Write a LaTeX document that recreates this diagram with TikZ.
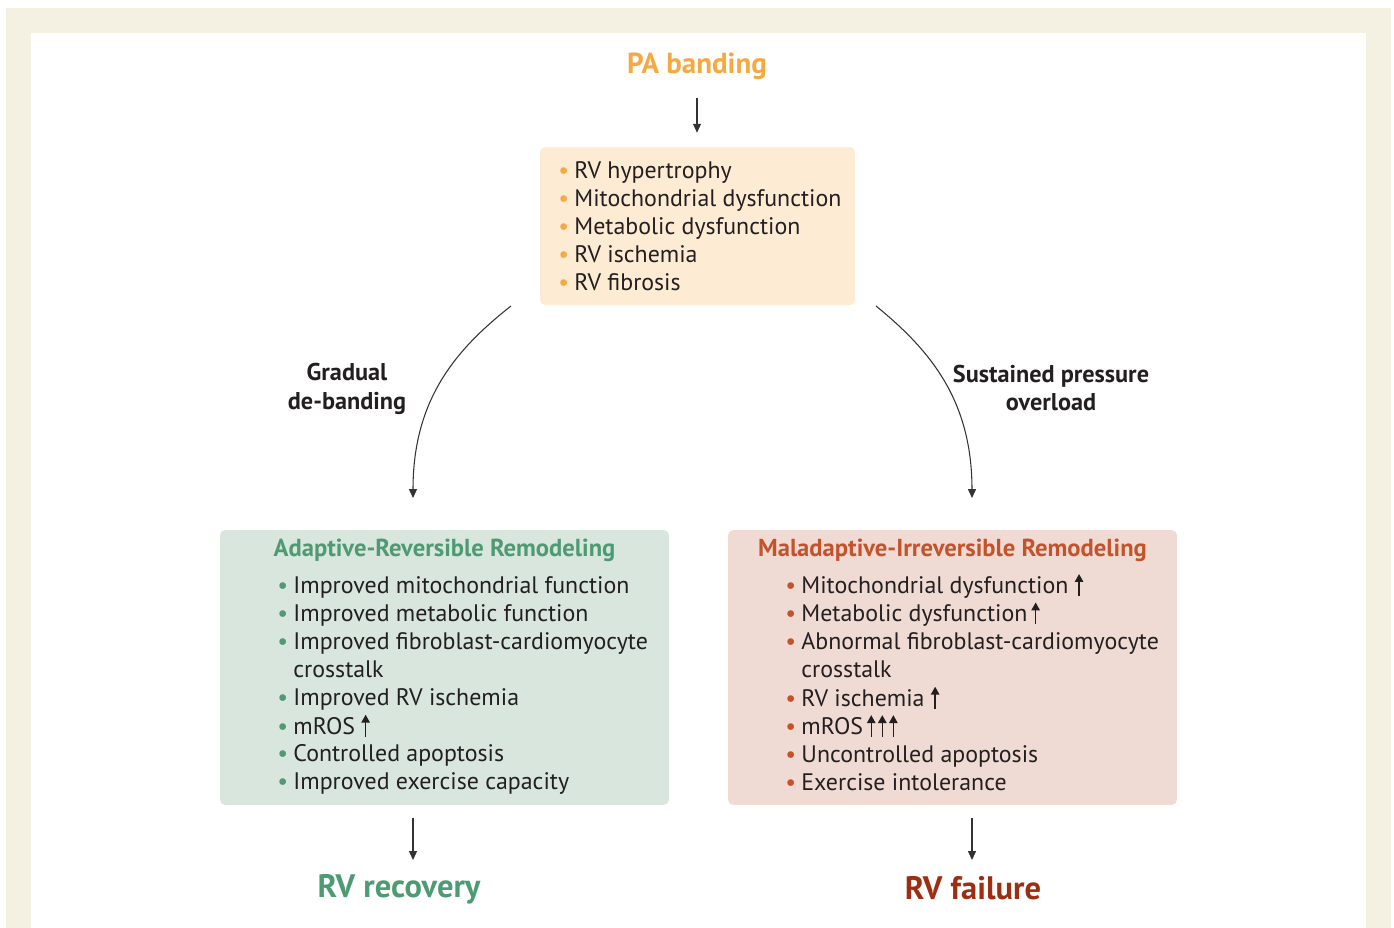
\documentclass[tikz,border=0pt]{standalone}
\usepackage{fontspec}
\setmainfont{PT Sans}
\usepackage{tikz}
\usetikzlibrary{positioning,calc,arrows.meta}

\definecolor{framebg}{HTML}{F4F0E2}
\definecolor{linegray}{HTML}{333333}
\definecolor{textdark}{HTML}{231F20}
\definecolor{pacolor}{HTML}{F7A941}
\definecolor{topfill}{HTML}{FDEBD4}
\definecolor{adgreen}{HTML}{4E9A72}
\definecolor{adfill}{HTML}{D8E6DE}
\definecolor{malred}{HTML}{C4532C}
\definecolor{malfill}{HTML}{F0DBD4}
\definecolor{failred}{HTML}{9E2E12}

\newcommand{\incr}{\tikz[baseline=0pt]\draw[line width=0.8pt,textdark,-{Triangle[length=4.5pt,width=4.8pt]}] (0pt,-1.5pt) -- (0pt,11pt);}
\newcommand{\itm}[2]{\textcolor{#1}{\textbullet} & #2\\}

\begin{document}
\begin{tikzpicture}[x=0.02cm, y=-0.02cm,
  flow/.style={draw=linegray, line width=0.6pt, -{Triangle[length=5pt,width=4.5pt]}},
  panel/.style={rounded corners=3pt, inner sep=0pt},
  listtext/.style={anchor=north west, inner sep=0pt, text=textdark,
    font=\fontsize{13.6pt}{15.9pt}\selectfont},
  boxhead/.style={font=\bfseries\fontsize{14pt}{16pt}\selectfont},
  sidelabel/.style={align=center, text=textdark, font=\bfseries\fontsize{13.8pt}{16.4pt}\selectfont},
  outcome/.style={font=\bfseries\fontsize{18.5pt}{21pt}\selectfont}]
\useasboundingbox (0,0) rectangle (1394,928);
\fill[framebg] (6,8) rectangle (1391,928);
\fill[white] (31,33) rectangle (1366,928);

% start and first response
\node[outcome, font=\bfseries\fontsize{16.5pt}{19pt}\selectfont, text=pacolor] (pa) at (697,66) {PA banding};
\node[panel, fill=topfill, minimum width=6.3cm, minimum height=3.16cm] (topbox) at (697.5,226) {};
\node[listtext] (toplist) at (558,159) {%
  \begin{tabular}{@{}c@{\hspace{3pt}}l@{}}
  \itm{pacolor}{RV hypertrophy}
  \itm{pacolor}{Mitochondrial dysfunction}
  \itm{pacolor}{Metabolic dysfunction}
  \itm{pacolor}{RV ischemia}
  \itm{pacolor}{RV fibrosis}
  \end{tabular}};

% the two remodeling paths
\node[panel, fill=adfill, minimum width=8.98cm, minimum height=5.5cm] (leftbox) at (444.5,667.5) {};
\node[boxhead, text=adgreen] (lefthead) at (444.5,550) {Adaptive-Reversible Remodeling};
\node[listtext] (leftlist) at (277,574) {%
  \begin{tabular}{@{}c@{\hspace{3pt}}l@{}}
  \itm{adgreen}{Improved mitochondrial function}
  \itm{adgreen}{Improved metabolic function}
  \itm{adgreen}{Improved fibroblast-cardiomyocyte}
  & crosstalk\\
  \itm{adgreen}{Improved RV ischemia}
  \itm{adgreen}{mROS \incr}
  \itm{adgreen}{Controlled apoptosis}
  \itm{adgreen}{Improved exercise capacity}
  \end{tabular}};

\node[panel, fill=malfill, minimum width=8.98cm, minimum height=5.5cm] (rightbox) at (952.5,667.5) {};
\node[boxhead, text=malred] (righthead) at (952.5,550) {Maladaptive-Irreversible Remodeling};
\node[listtext] (rightlist) at (785,573) {%
  \begin{tabular}{@{}c@{\hspace{3pt}}l@{}}
  \itm{malred}{Mitochondrial dysfunction \incr}
  \itm{malred}{Metabolic dysfunction\,\incr}
  \itm{malred}{Abnormal fibroblast-cardiomyocyte}
  & crosstalk\\
  \itm{malred}{RV ischemia \incr}
  \itm{malred}{mROS\,\incr\hspace{1.5pt}\incr\hspace{1.5pt}\incr}
  \itm{malred}{Uncontrolled apoptosis}
  \itm{malred}{Exercise intolerance}
  \end{tabular}};

\node[sidelabel] (gradual) at (347,389) {Gradual\\de-banding};
\node[sidelabel] (sustained) at (1051,388) {Sustained pressure\\overload};

\node[outcome, text=adgreen] (recovery) at (399,889) {RV recovery};
\node[outcome, text=failred] (failure) at (973,888) {RV failure};

\coordinate (lstart) at (511,306);
\coordinate (lend) at (413,498);
\coordinate (rstart) at (876,306);
\coordinate (rend) at (972,498);
\coordinate (ldown) at (413,818);
\coordinate (rdown) at (972,818);

\draw[flow] ($(pa.south)+(0,12)$) -- ($(topbox.north)+(-0.5,-14)$);
\draw[flow] (lstart) .. controls (455,350) and (413,400) .. (lend);
\draw[flow] (rstart) .. controls (930,350) and (972,400) .. (rend);
\draw[flow] (ldown) -- ($(ldown)+(0,42)$);
\draw[flow] (rdown) -- ($(rdown)+(0,42)$);
\end{tikzpicture}
\end{document}
